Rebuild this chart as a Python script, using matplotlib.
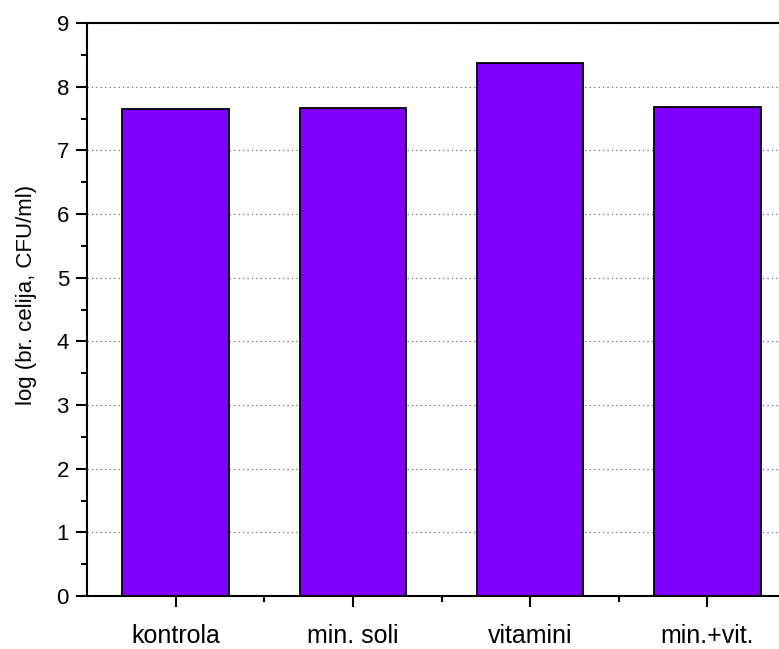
import numpy as np
import matplotlib.pyplot as plt
from matplotlib.ticker import MultipleLocator

plt.rcParams['font.family'] = ['Liberation Sans', 'DejaVu Sans']

categories = ["kontrola", "min. soli", "vitamini", "min.+vit."]
values = [7.65, 7.66, 8.37, 7.68]

fig = plt.figure(figsize=(7.79, 6.49), dpi=100)
ax = fig.add_axes([87 / 779, 53 / 649, 709 / 779, 573 / 649])

x = np.arange(1, len(categories) + 1)
ax.bar(x, values, width=0.6, color="#8000FF", edgecolor="black", linewidth=1.3, zorder=3)

ax.set_xlim(0.5, 4.5)
ax.set_ylim(0, 9)
ax.set_xticks(x)
ax.set_xticklabels(categories)
ax.set_xticks(x[:-1] + 0.5, minor=True)
ax.yaxis.set_major_locator(MultipleLocator(1))
ax.yaxis.set_minor_locator(MultipleLocator(0.5))

ax.grid(axis="y", which="major", linestyle=(0, (1, 3)), color="#555555", linewidth=0.8, zorder=0)

for s in ax.spines.values():
    s.set_linewidth(1.5)

ax.tick_params(axis="both", which="major", direction="out", length=8, width=1.5)
ax.tick_params(axis="both", which="minor", direction="out", length=4, width=1.5)
ax.tick_params(axis="x", which="major", pad=12, labelsize=18)
ax.tick_params(axis="y", which="major", pad=5, labelsize=16)

ax.set_ylabel("log (br. celija, CFU/ml)", fontsize=16)
ax.yaxis.set_label_coords(-0.07, 0.525)

fig.savefig("out.png", dpi=100)
